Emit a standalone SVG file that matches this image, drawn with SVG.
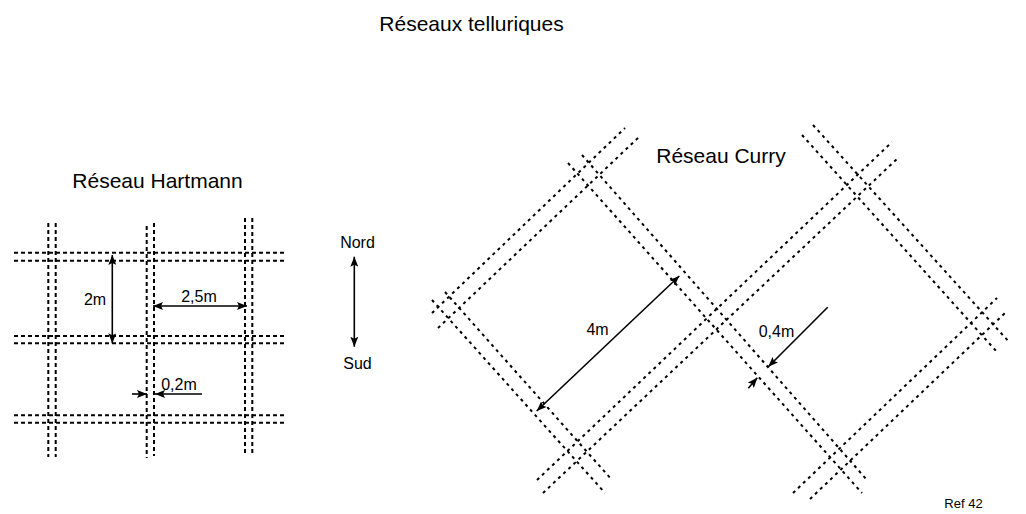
<svg xmlns="http://www.w3.org/2000/svg" width="1026" height="514" viewBox="0 0 1026 514">
<style>
  text { font-family: "Liberation Sans", Arial, sans-serif; fill: #000; }
  .title { font-size: 21px; }
  .lbl { font-size: 16px; }
  .small { font-size: 13px; }
  .grid line { stroke: #000; stroke-width: 2; stroke-dasharray: 4 3; fill: none; }
  .diag line { stroke: #000; stroke-width: 2; stroke-dasharray: 3 4; fill: none; }
  .arr { stroke: #000; stroke-width: 1.6; fill: none; }
  .both { marker-start: url(#ah); marker-end: url(#ah); }
  .one { marker-end: url(#ah); }
</style>
<defs>
  <marker id="ah" viewBox="0 0 10 8" refX="10" refY="4" markerWidth="10" markerHeight="8" markerUnits="userSpaceOnUse" orient="auto-start-reverse">
    <path d="M0,0 L10,4 L0,8 L2,4 z" fill="#000"/>
  </marker>
</defs>
<rect width="1026" height="514" fill="#fff"/>

<g id="title">
  <text class="title" x="471.5" y="31" text-anchor="middle">Réseaux telluriques</text>
</g>

<g id="hartmann">
  <text class="title" x="157.5" y="188" text-anchor="middle">Réseau Hartmann</text>
  <g class="grid">
    <line x1="48.3" y1="223" x2="48.3" y2="457"/>
    <line x1="55.7" y1="223" x2="55.7" y2="457"/>
    <line x1="146.7" y1="226" x2="146.7" y2="458"/>
    <line x1="154" y1="223" x2="154" y2="456"/>
    <line x1="245" y1="218" x2="245" y2="453"/>
    <line x1="252.3" y1="218" x2="252.3" y2="453"/>
    <line x1="14" y1="252.7" x2="287" y2="252.7"/>
    <line x1="14" y1="260.7" x2="287" y2="260.7"/>
    <line x1="14" y1="336" x2="287" y2="336"/>
    <line x1="14" y1="343.3" x2="287" y2="343.3"/>
    <line x1="14" y1="415.3" x2="287" y2="415.3"/>
    <line x1="14" y1="422.7" x2="287" y2="422.7"/>
  </g>
  <text class="lbl" x="95" y="305" text-anchor="middle">2m</text>
  <text class="lbl" x="199" y="302" text-anchor="middle">2,5m</text>
  <text class="lbl" x="179" y="390" text-anchor="middle">0,2m</text>
</g>

<g id="compass">
  <text class="lbl" x="357.5" y="248" text-anchor="middle">Nord</text>
  <text class="lbl" x="357.5" y="369" text-anchor="middle">Sud</text>
</g>

<g id="curry">
  <text class="title" x="721" y="163" text-anchor="middle">Réseau Curry</text>
  <g class="diag">
    <line x1="432" y1="313" x2="625" y2="128"/>
    <line x1="438" y1="328" x2="640" y2="136"/>
    <line x1="537" y1="480" x2="892" y2="142"/>
    <line x1="543" y1="493" x2="898" y2="158"/>
    <line x1="793" y1="493" x2="997" y2="298"/>
    <line x1="810" y1="499" x2="1005" y2="313"/>
    <line x1="432" y1="300" x2="605" y2="493"/>
    <line x1="445" y1="292" x2="612" y2="480"/>
    <line x1="568" y1="163" x2="862" y2="493"/>
    <line x1="582" y1="155" x2="867" y2="480"/>
    <line x1="802" y1="135" x2="997" y2="352"/>
    <line x1="813" y1="125" x2="1010" y2="343"/>
  </g>
  <text class="lbl" x="597.5" y="335" text-anchor="middle">4m</text>
  <text class="lbl" x="776.5" y="337" text-anchor="middle">0,4m</text>
</g>

<g id="connectors">
  <line class="arr both" x1="112.3" y1="255" x2="112.3" y2="343.3"/>
  <line class="arr both" x1="153" y1="306" x2="247" y2="306"/>
  <line class="arr one" x1="132" y1="394" x2="147" y2="394"/>
  <line class="arr one" x1="202" y1="394" x2="155" y2="394"/>
  <line class="arr both" x1="354.3" y1="256.7" x2="354.3" y2="346.7"/>
  <line class="arr both" x1="679.3" y1="276" x2="536.7" y2="411"/>
  <line class="arr one" x1="827.7" y1="307.3" x2="768.3" y2="366.7"/>
  <line class="arr one" x1="748.3" y1="388.3" x2="757.3" y2="377.7"/>
</g>

<g id="ref">
  <text class="small" x="963.5" y="508" text-anchor="middle">Ref 42</text>
</g>
</svg>
